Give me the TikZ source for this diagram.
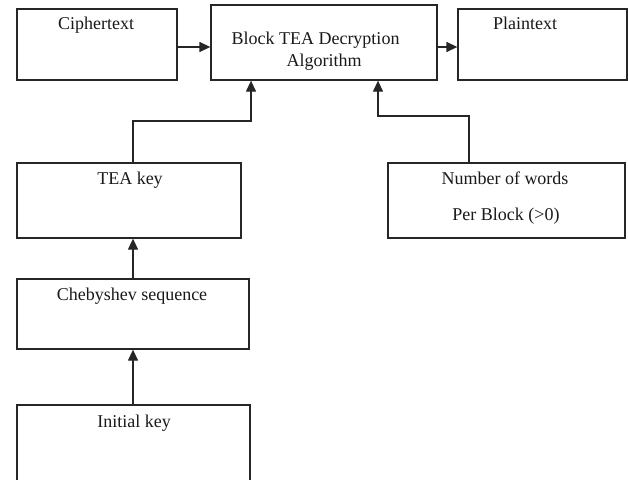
\documentclass[tikz,border=0pt]{standalone}
\usepackage{fontspec}
\setmainfont{Liberation Serif}
\usetikzlibrary{arrows.meta}
\begin{document}
\begin{tikzpicture}[x=1pt,y=-1pt,
  box/.style={draw=black!85, line width=1.3pt, rectangle, inner sep=0pt},
  lbl/.style={inner sep=0pt, font=\fontsize{18}{20}\selectfont, text height=0.7em, text depth=0.2em, text=black!90},
  arr/.style={draw=black!85, line width=1.3pt, -{Triangle[length=11pt,width=10pt]}},
  conn/.style={draw=black!85, line width=1.3pt}]
\useasboundingbox (0,0) rectangle (628,479);
% boxes
\node[box, minimum width=160pt, minimum height=71pt] (cipher) at (97,44.5) {};
\node[box, minimum width=226pt, minimum height=75pt] (block) at (324,42.5) {};
\node[box, minimum width=169pt, minimum height=71pt] (plain) at (542.5,44.5) {};
\node[box, minimum width=224pt, minimum height=75pt] (teakey) at (129,200.5) {};
\node[box, minimum width=237pt, minimum height=75pt] (number) at (506.5,200.5) {};
\node[box, minimum width=232pt, minimum height=70pt] (cheb) at (133,314) {};
\node[box, minimum width=233pt, minimum height=86pt] (init) at (133.5,448) {};
% texts
\node[lbl] (tcipher) at (96,27) {Ciphertext};
\node[lbl] (tblock1) at (315.5,42) {Block TEA Decryption};
\node[lbl] (tblock2) at (324,64) {Algorithm};
\node[lbl] (tplain) at (525,27) {Plaintext};
\node[lbl] (tteakey) at (130,182) {TEA key};
\node[lbl] (tnum1) at (505,182) {Number of words};
\node[lbl] (tnum2) at (506,218) {Per Block (>0)};
\node[lbl] (tcheb) at (132,298) {Chebyshev sequence};
\node[lbl] (tinit) at (134,425) {Initial key};
% helper coordinates
\coordinate (ay) at (0,47);
\coordinate (k1) at (133,121);
\coordinate (k2) at (251,121);
\coordinate (n1) at (469,116);
\coordinate (n2) at (378,116);
% connectors
\draw[arr] (cipher.east |- ay) -- (block.west |- ay);
\draw[arr] (block.east |- ay) -- (plain.west |- ay);
\draw[arr] (teakey.north -| k1) -- (k1) -- (k2) -- (block.south -| k2);
\draw[arr] (number.north -| n1) -- (n1) -- (n2) -- (block.south -| n2);
\draw[arr] (cheb.north) -- (teakey.south -| cheb.north);
\draw[arr] (init.north -| cheb.north) -- (cheb.south);
\end{tikzpicture}
\end{document}
